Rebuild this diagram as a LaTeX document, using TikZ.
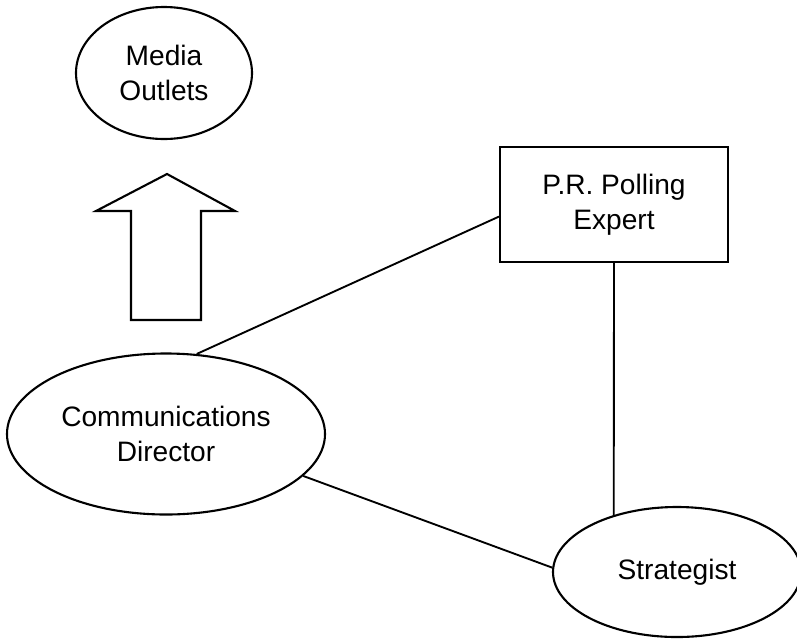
\documentclass[tikz,border=0pt]{standalone}
\usepackage{fontspec}
\setmainfont{Liberation Sans}
\usetikzlibrary{shapes.geometric}
\tikzset{
    role/.style={ellipse, draw, line width=1.8pt, inner sep=0pt, align=center}, % 椭圆节点的样式
    expert box/.style={rectangle, draw, line width=1.8pt, inner sep=0pt, align=center}, % 矩形节点的样式
    link/.style={line width=1.6pt} % 连线的样式
}

\begin{document}
\begin{tikzpicture}[x=0.03cm, y=-0.03cm, font=\fontsize{24}{30}\selectfont]
            \def\xmax{797} \def\ymax{638}
            \clip (0,0) rectangle (\xmax,\ymax);

            \node[role, minimum width=5.28cm, minimum height=3.96cm] (media) at (164,73) {Media\\Outlets};
            \node[expert box, minimum width=6.84cm, minimum height=3.45cm] (expert) at (614,204.5) {P.R. Polling\\Expert};
            \node[role, minimum width=9.54cm, minimum height=4.83cm] (comms) at (166,434) {Communications\\Director};
            \node[role, minimum width=7.44cm, minimum height=3.9cm] (strat) at (677,572) {Strategist};

            \draw[line width=1.8pt, line join=miter] (131,320) -- (131,211) -- (96,211) -- (167,174) -- (235,211) -- (201,211) -- (201,320) -- cycle;

            \draw[link] (comms.69) -- (expert.186);
            \draw[link] (expert.south) -- (strat.138);
            \draw[link] (comms.-17) -- (strat.178);
        \end{tikzpicture}
\end{document}
